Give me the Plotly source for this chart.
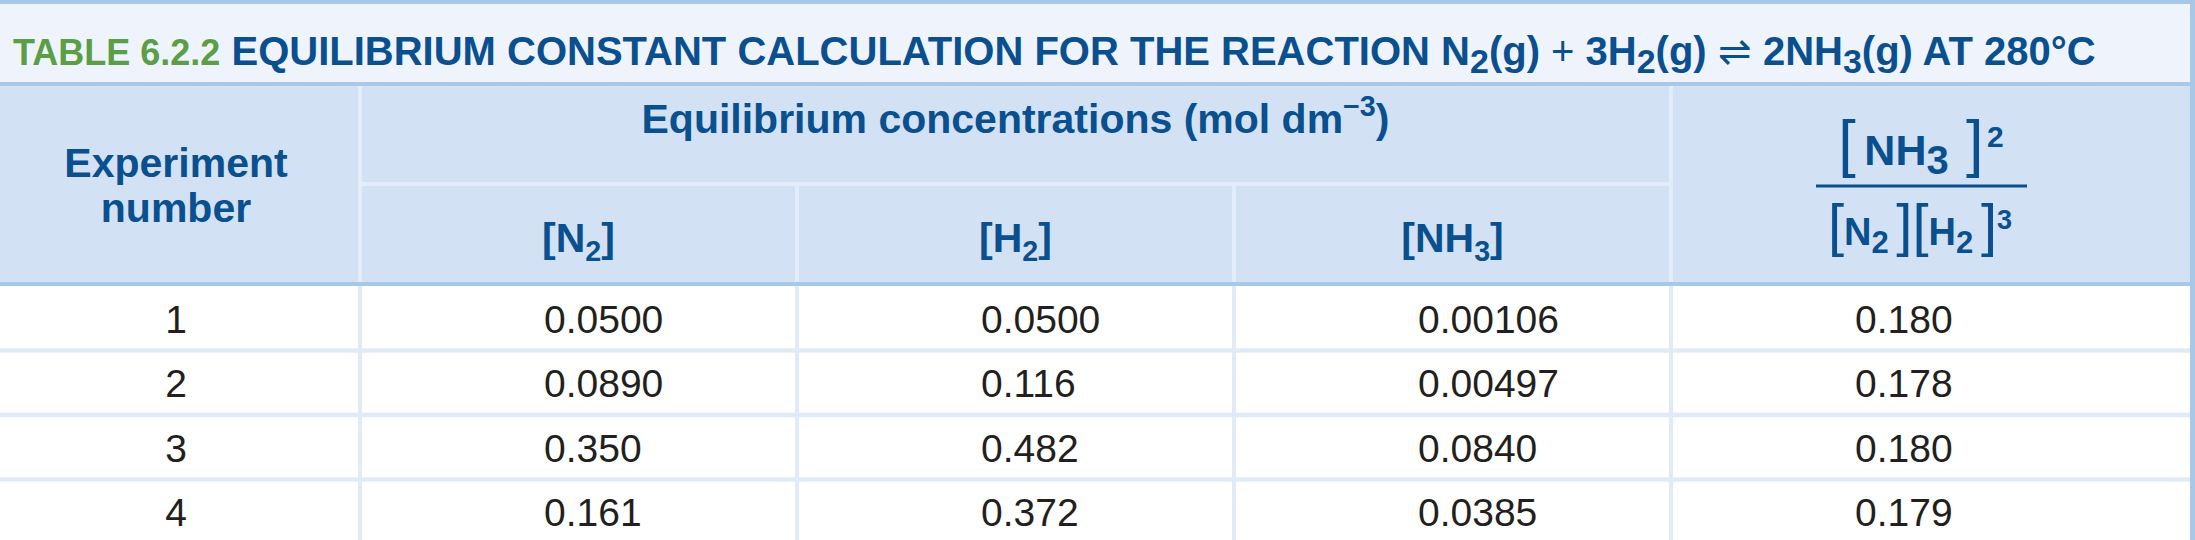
import math
import plotly.graph_objects as go

# table values (experiment number + equilibrium concentrations, mol dm-3)
experiments = [1, 2, 3, 4]
conc_n2 = [0.0500, 0.0890, 0.350, 0.161]
conc_h2 = [0.0500, 0.116, 0.482, 0.372]
conc_nh3 = [0.00106, 0.00497, 0.0840, 0.0385]
kc_values = [0.180, 0.178, 0.180, 0.179]


def tsub(s, px=34):
    # title subscripts are printed almost full size
    return f"<sub><span style='font-size:{px}px'>{s}</span></sub>"


# header texts
title_tag = "TABLE 6.2.2"
title_text = ("EQUILIBRIUM CONSTANT CALCULATION FOR THE REACTION N" + tsub("2") + "(g) "
              "<span style='font-weight:normal'>+</span> 3H" + tsub("2") + "(g) "
              "<span style='font-weight:normal'>⇌</span> 2NH" + tsub("3") + "(g) AT 280°C")
first_header = ["Experiment", "number"]
group_header = "Equilibrium concentrations (mol dm<sup>−3</sup>)"
sub_headers = ["[N<sub>2</sub>]", "[H<sub>2</sub>]", "[NH<sub>3</sub>]"]

# page geometry (pixels)
W, H = 2195, 540
COL_EDGES = [0, 360, 797, 1234, 1671, 2192]
ROW_TOP = 286
ROW_H = 64.5
VALUE_INDENT = 184

BLUE = "#0A4F8E"
GREEN = "#5B9E45"
INK = "#231F20"
RULE = "#A9C8E8"
HEAD_BG = "#D2E2F4"
TITLE_BG = "#EFF4FC"
HEAD_SEP = "#E3EDF9"
BODY_SEP = "#E0EBF7"
FONT = "Liberation Sans, Arial, sans-serif"


def sig3(v):
    decimals = 2 - math.floor(math.log10(abs(v)))
    return f"{v:.{decimals}f}"


def ypos(baseline, size):
    # scatter text "middle" puts the baseline 0.25em below the point
    return baseline - 0.25 * size


def bracket(ch, size):
    return f"<span style='font-weight:normal;font-size:{size}px'>{ch}</span>"


def sized(s, size):
    return f"<span style='font-size:{size}px'>{s}</span>"


fig = go.Figure()

shapes = []


def band(y0, y1, color, x0=0, x1=W):
    shapes.append(dict(type='rect', xref='x', yref='y', x0=x0, x1=x1, y0=y0, y1=y1,
                       fillcolor=color, line=dict(width=0), layer='below'))


def rule(x0, y0, x1, y1, color, width):
    shapes.append(dict(type='line', xref='x', yref='y', x0=x0, x1=x1, y0=y0, y1=y1,
                       line=dict(color=color, width=width), layer='below'))


# backgrounds
band(0, 84, TITLE_BG)
band(84, 284, HEAD_BG)
band(0, 4, RULE)
band(82, 86, RULE)
band(282, 286, RULE)

# header separators
rule(COL_EDGES[1], 86, COL_EDGES[1], 282, HEAD_SEP, 4)
rule(COL_EDGES[4], 86, COL_EDGES[4], 282, HEAD_SEP, 4)
rule(COL_EDGES[2], 184, COL_EDGES[2], 282, HEAD_SEP, 4)
rule(COL_EDGES[3], 184, COL_EDGES[3], 282, HEAD_SEP, 4)
rule(COL_EDGES[1], 184, COL_EDGES[4], 184, HEAD_SEP, 4)

# body grid
n_rows = len(experiments)
for i in range(1, n_rows):
    y = ROW_TOP + i * ROW_H
    rule(0, y, COL_EDGES[-1], y, BODY_SEP, 4.5)
for x in COL_EDGES[1:-1]:
    rule(x, 286, x, H, BODY_SEP, 4)

# right border
band(0, H, RULE, x0=2190, x1=W)

# fraction bar
rule(1816, 186, 2027, 186, BLUE, 3)

# ---- texts ----
row_base = [ROW_TOP + (i + 0.5) * ROW_H + 14.5 for i in range(n_rows)]
BODY_SIZE = 39

fig.add_trace(go.Scatter(
    x=[(COL_EDGES[0] + COL_EDGES[1]) / 2 - 4] * n_rows,
    y=[ypos(b, BODY_SIZE) for b in row_base],
    text=[str(e) for e in experiments], mode='text', textposition='middle center',
    textfont=dict(family=FONT, size=BODY_SIZE, color=INK), hoverinfo='skip'))

for ci, col in enumerate([conc_n2, conc_h2, conc_nh3, kc_values]):
    fig.add_trace(go.Scatter(
        x=[COL_EDGES[ci + 1] + VALUE_INDENT] * n_rows,
        y=[ypos(b, BODY_SIZE) for b in row_base],
        text=[sig3(v) for v in col], mode='text', textposition='middle right',
        textfont=dict(family=FONT, size=BODY_SIZE, color=INK), hoverinfo='skip'))

# title
TITLE_SIZE = 40
fig.add_trace(go.Scatter(
    x=[13], y=[ypos(65, TITLE_SIZE)],
    text=[f"<span style='color:{GREEN};font-size:36px'>{title_tag}</span> {title_text}"],
    mode='text', textposition='middle right',
    textfont=dict(family=FONT, size=TITLE_SIZE, color=BLUE, weight='bold'), hoverinfo='skip'))

HEAD_SIZE = 41
head_font = dict(family=FONT, size=HEAD_SIZE, color=BLUE, weight='bold')

fig.add_trace(go.Scatter(
    x=[176, 176], y=[ypos(177, HEAD_SIZE), ypos(222, HEAD_SIZE)],
    text=first_header, mode='text', textposition='middle center',
    textfont=head_font, hoverinfo='skip'))

fig.add_trace(go.Scatter(
    x=[(COL_EDGES[1] + COL_EDGES[4]) / 2], y=[ypos(133, HEAD_SIZE)],
    text=[group_header], mode='text', textposition='middle center',
    textfont=head_font, hoverinfo='skip'))

fig.add_trace(go.Scatter(
    x=[(COL_EDGES[i] + COL_EDGES[i + 1]) / 2 for i in range(1, 4)],
    y=[ypos(252, HEAD_SIZE)] * 3,
    text=sub_headers, mode='text', textposition='middle center',
    textfont=head_font, hoverinfo='skip'))

# Kc expression as a fraction
NUM_SIZE, DEN_SIZE = 43, 38
numerator = (f"{bracket('[', 63)}\u2009NH<sub>{sized('3', 40)}</sub>\u2009\u2009"
             f"{bracket(']', 63)}\u200a<sup>{sized('2', 30)}</sup>")
denominator = (f"{bracket('[', 58)}N<sub>{sized('2', 31)}</sub>\u2009{bracket(']', 58)}"
               f"{bracket('[', 58)}H<sub>{sized('2', 31)}</sub>\u2009{bracket(']', 58)}"
               f"<sup>{sized('3', 27)}</sup>")
fig.add_trace(go.Scatter(
    x=[1921], y=[ypos(165, NUM_SIZE)], text=[numerator], mode='text', textposition='middle center',
    textfont=dict(family=FONT, size=NUM_SIZE, color=BLUE, weight='bold'), hoverinfo='skip'))
fig.add_trace(go.Scatter(
    x=[1920], y=[ypos(245, DEN_SIZE)], text=[denominator], mode='text', textposition='middle center',
    textfont=dict(family=FONT, size=DEN_SIZE, color=BLUE, weight='bold'), hoverinfo='skip'))

fig.update_layout(
    width=W, height=H, autosize=False,
    margin=dict(l=0, r=0, t=0, b=0, pad=0),
    paper_bgcolor='white', plot_bgcolor='white',
    showlegend=False, shapes=shapes,
    xaxis=dict(range=[0, W], visible=False, fixedrange=True),
    yaxis=dict(range=[H, 0], visible=False, fixedrange=True),
)

fig.write_html("out.html", config={'displayModeBar': False},
               post_script="document.body.style.margin='0';document.body.style.overflow='hidden';")
